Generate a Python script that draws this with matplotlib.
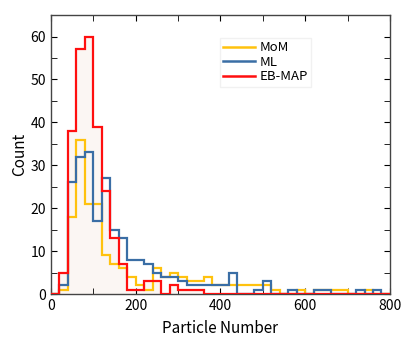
import numpy as np
import matplotlib
matplotlib.use("Agg")
import matplotlib.pyplot as plt
from matplotlib.ticker import MultipleLocator
from matplotlib.lines import Line2D

plt.rcParams['font.family'] = ['Noto Sans CJK JP', 'DejaVu Sans']

edges = np.arange(0, 820, 20)

mom = [0, 1, 18, 36, 21, 21, 9, 7, 6, 4,
       2, 1, 6, 4, 5, 4, 3, 3, 4, 2,
       2, 2, 2, 2, 2, 2, 1, 0, 0, 1,
       0, 1, 1, 1, 1, 0, 0, 1, 0, 0]
ml = [0, 2, 26, 32, 33, 17, 27, 15, 13, 8,
      8, 7, 5, 4, 4, 3, 2, 2, 2, 2,
      2, 5, 0, 0, 1, 3, 0, 0, 1, 0,
      0, 1, 1, 0, 0, 0, 1, 0, 1, 0]
ebmap = [0, 5, 38, 57, 60, 39, 24, 13, 7, 1,
         1, 3, 3, 0, 2, 1, 1, 1, 0, 0,
         0, 0, 0, 0, 0, 0, 0, 0, 0, 0,
         0, 0, 0, 0, 0, 0, 0, 0, 0, 0]

series = [("MoM", mom, "#FFC20E"), ("ML", ml, "#3A6EA5"), ("EB-MAP", ebmap, "#FF0F0F")]

fig = plt.figure(figsize=(4.04, 3.41), dpi=100)
ax = fig.add_axes([0.1262, 0.1378, 0.839, 0.818])

# light fill
ax.stairs(ebmap, edges, fill=True, color="#FBF6F3", zorder=1)

draw_order = [2, 0, 1]
for i in draw_order:
    name, vals, col = series[i]
    ax.stairs(vals, edges, color=col, linewidth=1.6, zorder=3 + i, baseline=0)

handles = [Line2D([], [], color=c, lw=1.8) for _, _, c in series]
leg = ax.legend(handles, [n for n, _, _ in series], loc="upper left",
                bbox_to_anchor=(0.4985, 0.918), borderaxespad=0.0,
                frameon=True, fontsize=9.5,
                handlelength=2.4, handletextpad=0.35, borderpad=0.25,
                labelspacing=0.12, fancybox=False, edgecolor="#EEEEEE")

ax.set_xlim(0, 800)
ax.set_ylim(0, 65)
ax.xaxis.set_major_locator(MultipleLocator(200))
ax.xaxis.set_minor_locator(MultipleLocator(100))
ax.yaxis.set_major_locator(MultipleLocator(10))
ax.yaxis.set_minor_locator(MultipleLocator(5))
ax.tick_params(which="both", direction="in", top=True, right=True, labelsize=10)
ax.tick_params(which="major", length=4)
ax.tick_params(which="minor", length=4)
for s in ax.spines.values():
    s.set_color("#444444")
    s.set_linewidth(1.0)

ax.set_xlabel("Particle Number", fontsize=11, labelpad=5)
ax.set_ylabel("Count", fontsize=11, labelpad=2)

fig.savefig("out.png", dpi=100)
